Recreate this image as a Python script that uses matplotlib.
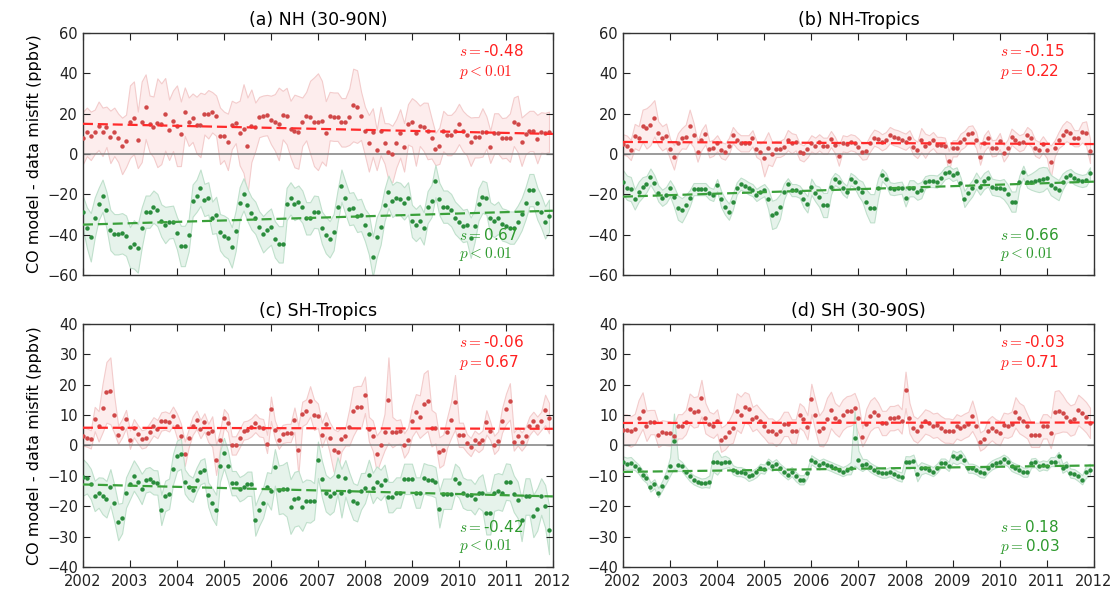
import numpy as np
import matplotlib.pyplot as plt

plt.rcParams['mathtext.fontset'] = 'cm'
plt.rcParams['xtick.direction'] = 'in'
plt.rcParams['ytick.direction'] = 'in'
plt.rcParams['xtick.top'] = True
plt.rcParams['ytick.right'] = True

# monthly time axis 2002-2011
months = 2002 + np.arange(120) / 12.0

# (a) NH (30-90N)
a_red = [8, 11, 9, 11, 14, 11, 13.5, 8.5, 11, 8, 4, 6.5,
         16, 18, 7, 16, 23.5, 15, 13.5, 15.5, 15, 19.7, 12, 16.5,
         14, 10, 21, 16, 18, 14.4, 14.4, 19.7, 19.7, 20.7, 19, 9,
         9, 6, 14.4, 15.4, 10.4, 12.6, 4, 14, 13.5, 18.3, 19, 19.3,
         16.9, 15.7, 14.9, 19.3, 18.8, 12.4, 11.4, 10.7, 16, 18.8, 18.3, 16,
         16, 16.3, 10.2, 18.8, 18.5, 18.5, 15.7, 15.7, 18.5, 24.3, 23.5, 19,
         11.4, 5.3, 10.7, 2, 11.4, 5.3, 1.2, 0, 5.3, 10.2, 3.3, 14.7,
         15.7, 10.2, 14, 13.5, 11.4, 7.8, 2.5, 4.1, 11.4, 9.4, 9.4, 11.4,
         14.9, 11.4, 9.4, 6.1, 8.3, 8.3, 10.7, 10.7, 3.6, 10.2, 10.2, 7.8,
         8.1, 8.1, 16, 14.9, 6.1, 9.8, 11.4, 11.4, 7.4, 10.7, 10.4, 11]
a_red_err = [13, 12, 12, 11, 12, 12, 10, 13, 12, 12, 14, 13,
             18, 18, 14, 20, 16, 14, 15, 22, 20, 18, 15, 15,
             20, 16, 12, 12, 12, 14, 16, 10, 12, 10, 10, 14,
             12, 14, 12, 10, 16, 22, 24, 18, 12, 10, 10, 10,
             12, 14, 18, 12, 14, 14, 18, 18, 12, 12, 18, 22,
             24, 20, 16, 12, 12, 12, 12, 12, 14, 18, 18, 12,
             12, 14, 12, 10, 12, 10, 14, 14, 12, 12, 12, 10,
             12, 16, 10, 12, 14, 10, 8, 9, 10, 10, 10, 10,
             10, 10, 10, 12, 10, 10, 12, 8, 8, 10, 10, 10,
             10, 12, 12, 14, 12, 10, 10, 10, 12, 10, 10, 10]
a_green = [-29, -36.5, -41.3, -31.6, -24.8, -20.7, -27.8, -37.7, -39.8, -39.8, -39.3, -40.5,
           -46.3, -44.8, -46.8, -36.5, -28.6, -28.6, -26.1, -27.8, -33, -35.2, -33.9, -33.6,
           -39.3, -45.6, -45.6, -40.2, -23.1, -20.7, -16.7, -22.8, -22, -31.6, -30.2, -38.8,
           -40.5, -41.8, -46.3, -38, -24.5, -20, -25.3, -29.4, -31.6, -36.4, -39.8, -37.7,
           -36, -42.3, -44.8, -44.8, -24.8, -22, -24.8, -23.6, -26.1, -31.9, -31.9, -28.6,
           -28.9, -36.5, -40.2, -42.3, -38.8, -26.1, -15.7, -21.7, -27.3, -26.9, -30.7, -30.2,
           -35.2, -39.8, -50.9, -41.3, -36, -25.3, -18.7, -23.3, -21.7, -22.3, -24.5, -22,
           -33.2, -35.2, -33.2, -36.9, -26.4, -23.3, -13.4, -22.3, -26.1, -26.1, -27.8, -31.6,
           -33.6, -35.7, -35.2, -41.5, -35.7, -25, -21.2, -22, -31.9, -33.2, -31.6, -34.9,
           -35.5, -36.5, -36.5, -33.6, -29.9, -24.5, -17.9, -17.9, -24.5, -28.6, -33.9, -30.6]
a_green_err = [8, 10, 12, 10, 8, 8, 9, 10, 10, 10, 10, 10,
               10, 12, 12, 10, 8, 8, 8, 8, 8, 9, 8, 8,
               8, 10, 10, 8, 8, 8, 9, 8, 8, 8, 9, 9,
               10, 10, 10, 10, 8, 8, 8, 8, 8, 8, 9, 9,
               9, 9, 9, 9, 8, 8, 8, 8, 8, 8, 8, 8,
               8, 8, 9, 9, 9, 8, 8, 8, 8, 8, 8, 8,
               8, 10, 10, 10, 9, 8, 8, 8, 8, 8, 8, 8,
               8, 8, 8, 8, 8, 8, 8, 8, 8, 8, 8, 8,
               8, 8, 8, 10, 8, 8, 8, 8, 8, 8, 8, 8,
               8, 8, 8, 8, 8, 8, 8, 8, 8, 8, 8, 8]

# (b) NH-Tropics
b_red = [4.8, 4.1, 2, 8.9, 7.8, 14, 12.7, 14.4, 17.7, 10.2, 7.8, 9.1,
         2.5, -1.7, 5.3, 7.8, 8.6, 14, 9.4, 1.2, 6.9, 9.8, 2.3, 3.1,
         5.3, 2, 1.2, 4, 9.4, 6.9, 5.3, 5.3, 5.3, 7.8, 2.5, 1.2,
         -2.1, 2.8, 0, 2.5, 2.5, 3.6, 6.9, 5.3, 5.8, 1.2, 0.3, 2.3,
         5.3, 4.1, 5.8, 4.1, 4.1, 7.4, 4.5, -0.8, 5.3, 4.8, 5.8, 5.3,
         3.6, 1.2, 1.5, 5.3, 8.1, 7.3, 5.8, 6.9, 9.4, 8.3, 7.8, 6.9,
         6.1, 7.8, 3.6, 2, 6.9, 4.1, 5.3, 6.9, 4.5, 4.5, 4.1, -3.5,
         2.8, 2.8, 6.1, 7.4, 9.8, 10.2, 6.9, -1.3, 5.3, 7.8, 2.8, 3.1,
         6.4, 0.3, 3.1, 8.6, 6.9, 5.3, 6.1, 9.4, 7.8, 3.1, 2, 4.8,
         2, -3.8, 2.8, 6.9, 9.4, 11.4, 10.2, 7.8, 7.8, 10.7, 10.2, 1.5]
b_red_err = [5, 5, 5, 6, 6, 8, 10, 10, 9, 6, 6, 6,
             5, 6, 5, 5, 6, 8, 6, 5, 5, 5, 4, 4,
             4, 4, 4, 4, 4, 4, 4, 4, 4, 4, 4, 4,
             9, 8, 6, 4, 4, 4, 5, 5, 4, 4, 4, 4,
             4, 4, 4, 4, 4, 4, 4, 5, 4, 4, 4, 4,
             4, 4, 4, 4, 4, 4, 4, 4, 4, 4, 4, 4,
             4, 4, 4, 4, 6, 6, 4, 4, 4, 4, 4, 5,
             4, 4, 4, 4, 4, 4, 4, 4, 4, 4, 4, 4,
             4, 4, 4, 4, 4, 4, 4, 4, 4, 4, 4, 4,
             4, 8, 4, 4, 5, 5, 5, 4, 4, 5, 6, 6]
b_green = [-14, -16.7, -17.4, -22.5, -18.7, -16.5, -14.9, -11.2, -14.5, -19.5, -21.7, -20.3,
           -17, -21.2, -26.6, -27.9, -25.3, -22, -17.4, -17.4, -17.4, -17.4, -19.5, -20.3,
           -15.4, -22.3, -26.1, -28.6, -23.6, -17, -14.7, -15.7, -17, -17.9, -20.3, -19,
           -17.9, -22.3, -30.2, -29.4, -26.1, -18.7, -15, -17.9, -17.9, -18.7, -22.3, -25,
           -16.2, -19.5, -21.2, -25.3, -25.3, -16.2, -12.4, -13.7, -17, -18.7, -12.4, -13.7,
           -16.7, -18.7, -23.6, -26.9, -26.9, -17, -10.4, -12.4, -17, -17.4, -17, -16.7,
           -22, -17, -17, -18.7, -17.9, -14, -13.4, -13.4, -13.7, -12.1, -9.6, -8.8,
           -10.4, -9.6, -14.5, -22.3, -19.5, -17, -13.2, -16.2, -13.4, -12.1, -16.2, -16.7,
           -17, -17.4, -20, -23.6, -23.6, -13.7, -8.8, -13.7, -13.7, -13.4, -12.9, -12.4,
           -11.7, -15.4, -16.7, -17.9, -13.7, -11.2, -10.4, -12.1, -12.9, -13.4, -12.9, -9.6]
b_green_err = [6, 6, 6, 5, 5, 5, 4, 4, 4, 4, 4, 4,
               4, 5, 6, 6, 5, 4, 3, 3, 3, 3, 3, 3,
               3, 4, 4, 4, 4, 3, 3, 3, 3, 3, 3, 3,
               3, 5, 7, 7, 6, 4, 3, 3, 3, 3, 4, 4,
               4, 4, 5, 6, 6, 4, 3, 3, 3, 3, 3, 3,
               4, 5, 6, 7, 7, 5, 3, 3, 3, 3, 3, 3,
               4, 4, 4, 4, 4, 3, 3, 3, 3, 3, 3, 3,
               3, 3, 3, 4, 4, 4, 4, 4, 4, 4, 4, 4,
               4, 5, 5, 5, 5, 3, 3, 3, 4, 5, 6, 6,
               5, 5, 5, 5, 4, 3, 3, 3, 3, 3, 3, 3]

# (c) SH-Tropics
c_red = [3, 2.6, 2, 8.7, 6.3, 12.3, 17.5, 18, 10.1, 3.5, 5.7, 8.7,
         1.9, 5.7, 3.7, 2, 2.4, 4.3, 6.3, 5.4, 7.9, 8.2, 7.6, 9.8,
         6.5, 3.2, -2.7, 2.4, 6.5, 8.5, 5.4, 7.6, 4.1, 4.6, -4.7, 1.9,
         9, 7.4, 0, 0, 2.4, 4.9, 5.2, 6, 7.4, 6, 5.7, 0.5,
         12.1, 5.2, 1.9, 3.8, 4.1, 4.1, 8.5, -1.6, 10.4, 11.2, 14.5, 10.1,
         9.8, 3.5, 7, 2.6, -1.6, -2.3, 2, 3, 6, 11.2, 12.6, 12.6,
         16.7, 5.4, 3.2, -2.7, 0, 4.4, 15, 4.4, 4.3, 4.6, 0, 1.9,
         7.9, 10.9, 9.5, 13.7, 14.8, 5.7, 5.7, -2.3, -1.4, 4.3, 8.5, 14.2,
         3.5, 3.5, 0.8, -0.5, 1.9, 0.8, 1.9, 7.6, 4.8, 0.2, 1.6, 8.2,
         12, 14.5, 1.3, 3, 1.3, 3, 6.5, 8.1, 6.5, 8.1, 11.7, 9]
c_red_err = [3, 3, 3, 4, 5, 8, 10, 11, 6, 3, 3, 3,
             3, 3, 3, 3, 3, 3, 3, 3, 3, 3, 3, 3,
             4, 4, 4, 3, 3, 3, 3, 3, 3, 5, 5, 3,
             3, 3, 3, 3, 3, 3, 3, 3, 3, 3, 3, 3,
             4, 3, 3, 3, 3, 3, 4, 8, 4, 4, 5, 5,
             4, 4, 4, 5, 7, 7, 4, 3, 6, 8, 7, 7,
             6, 4, 5, 6, 5, 6, 14, 5, 4, 4, 4, 4,
             5, 6, 7, 10, 10, 6, 5, 5, 5, 5, 6, 9,
             4, 4, 3, 3, 3, 3, 3, 4, 3, 3, 3, 4,
             5, 6, 3, 3, 3, 3, 3, 3, 3, 3, 5, 5]
c_green = [-10.5, -10.8, -12.7, -16.6, -15.5, -16.6, -17.7, -13.8, -19, -25.2, -23.9, -15.5,
           -12.7, -9.9, -11.9, -14.3, -11.5, -11.1, -12.1, -12.2, -21.2, -16.6, -15.9, -7.8,
           -3.4, -2.7, -11.9, -13.7, -14.6, -11.3, -8.8, -8.2, -16.2, -19, -21.2, -6.9,
           -2.5, -6.6, -12.4, -12.4, -14.4, -13.7, -12.6, -12.6, -24.7, -21.4, -18.8, -13.8,
           -15.1, -7.2, -14.6, -14.3, -14.4, -20.1, -17.7, -17.3, -20.1, -18.2, -18.4, -18.4,
           -4.7, -11, -15.7, -16.8, -15.7, -9.9, -15.7, -10.8, -14.9, -18.4, -19, -15.1,
           -14, -9.7, -14, -11.9, -13, -11.3, -17, -17, -15.5, -15.5, -11, -11,
           -11, -15.5, -15.5, -10.8, -11.3, -11.5, -12.1, -21, -15.9, -15.9, -15.9, -11,
           -12.2, -15.5, -16.2, -16.2, -17.7, -15.5, -15.5, -22.3, -22.3, -15.5, -15.1, -15.5,
           -11.9, -12.1, -15.9, -17.9, -24.5, -16.8, -16.8, -23.2, -21, -16.8, -20, -27.8]
c_green_err = [6, 5, 5, 5, 5, 6, 6, 6, 6, 6, 5, 5,
               5, 5, 5, 5, 4, 4, 4, 4, 5, 5, 5, 5,
               5, 5, 4, 4, 4, 4, 4, 4, 4, 5, 5, 5,
               5, 5, 4, 4, 4, 4, 4, 4, 5, 5, 5, 5,
               6, 6, 8, 8, 9, 9, 9, 9, 8, 7, 7, 6,
               6, 6, 6, 6, 6, 6, 8, 6, 6, 6, 6, 6,
               5, 5, 5, 5, 5, 5, 5, 5, 5, 5, 5, 5,
               5, 5, 5, 5, 5, 5, 5, 6, 5, 5, 5, 5,
               5, 5, 5, 5, 5, 5, 6, 7, 7, 6, 6, 6,
               6, 6, 6, 6, 7, 6, 6, 7, 7, 6, 7, 8]

# (d) SH (30-90S)
d_red = [5.2, 5.2, 4.6, 5.4, 9, 11.5, 6.5, 7.7, 7.7, 3.5, 4.3, 4.1,
         4, 3.2, 6.3, 6.3, 7.7, 12.1, 10.9, 11.2, 15.6, 9, 7.1, 6.5,
         7.9, 1.9, 2.7, 4.3, 5.9, 11.2, 10.1, 12.6, 12, 8.7, 9.5, 7.9,
         6.5, 4.9, 4.9, 3.8, 4.9, 7.1, 7.1, 4.6, 4.6, 9.9, 8.8, 6,
         15.3, 9.9, 4.9, 5.7, 8.7, 11.7, 9, 7.9, 10.1, 11.2, 11.5, 12.3,
         9, 2.7, 7.1, 9.8, 10.9, 10.1, 7.4, 7.4, 9, 9, 9.5, 7.9,
         18.3, 9, 5.7, 4.9, 6.3, 7.9, 7.4, 6.5, 6.8, 5.7, 4.9, 4.9,
         4.6, 6.3, 5.7, 6.5, 7.1, 9.8, 6.3, 1.3, 2.1, 4.6, 5.7, 4.6,
         4.1, 6.8, 6.5, 7.1, 10.9, 9, 8.2, 6.3, 3.5, 3.5, 3.5, 6.3,
         6.3, 4.1, 10.9, 11.2, 10.6, 9.5, 8.2, 8.7, 11.7, 10.6, 9.3, 7.4]
d_red_err = [5, 5, 5, 5, 6, 6, 5, 4, 4, 4, 4, 4,
             4, 4, 4, 4, 4, 5, 5, 5, 6, 5, 4, 4,
             4, 4, 4, 4, 5, 6, 6, 5, 5, 4, 4, 4,
             4, 4, 4, 4, 4, 4, 4, 4, 4, 4, 4, 4,
             5, 5, 5, 6, 7, 6, 5, 5, 5, 5, 5, 5,
             5, 3, 5, 5, 5, 4, 4, 4, 4, 4, 4, 4,
             6, 5, 4, 4, 4, 4, 4, 4, 4, 4, 4, 4,
             4, 4, 4, 4, 4, 5, 4, 3, 3, 4, 4, 4,
             4, 4, 4, 4, 5, 5, 5, 4, 4, 4, 4, 4,
             4, 5, 7, 7, 6, 5, 5, 5, 5, 5, 5, 5]
d_green = [-5.6, -6, -5.8, -6.6, -7.8, -9.7, -10.8, -13.7, -12.6, -15.5, -13.2, -10.4,
           -6.9, 1.5, -6.4, -6.9, -8.6, -10.2, -11.3, -11.9, -12.4, -12.2, -11.9, -5.6,
           -5.6, -5.8, -5.4, -5.6, -8, -8.6, -8.6, -9.1, -10.2, -9.7, -8.9, -7.5,
           -7.8, -5.8, -6.9, -6, -7.5, -8.6, -9.7, -8.6, -10.2, -11.3, -11.3, -9.1,
           -4.7, -5.6, -6.4, -5.8, -6.4, -6.9, -7.5, -8, -8.6, -8, -7.5, 2.4,
           -4.7, -6.4, -6, -7.2, -8, -8.6, -9.1, -9.1, -8.6, -9.3, -10, -10.4,
           -5.5, -5.6, -5, -9.3, -7.5, -7.5, -8, -8.6, -7.5, -5.8, -5.8, -6.9,
           -3.6, -4.2, -3.6, -4.9, -7.5, -7.5, -8, -8.9, -9.1, -7.5, -6.4, -5.8,
           -5.3, -4.5, -5.3, -6.9, -7.5, -8, -8.8, -8.8, -5.8, -5.6, -6.9, -6.4,
           -6.7, -5.3, -5.3, -3.6, -7.5, -6.7, -9.1, -9.3, -10.2, -11.3, -8.6, -8]
d_green_err = [2, 2, 2, 1.5, 1.5, 1.5, 1.5, 1.5, 1.5, 1.5, 1.5, 2,
               3, 9, 2, 1.5, 1.5, 1.5, 1.5, 1.5, 1.5, 1.5, 2, 3,
               4, 2, 2, 1.5, 1.5, 1.5, 1.5, 1.5, 1.5, 1.5, 1.5, 1.5,
               1.5, 1.5, 1.5, 1.5, 1.5, 1.5, 1.5, 1.5, 1.5, 1.5, 1.5, 1.5,
               1.5, 1.5, 1.5, 1.5, 1.5, 1.5, 1.5, 1.5, 1.5, 1.5, 2, 9,
               3, 2, 1.5, 1.5, 1.5, 1.5, 1.5, 1.5, 1.5, 1.5, 1.5, 1.5,
               2, 2, 2, 2.5, 2, 1.5, 1.5, 1.5, 1.5, 1.5, 1.5, 1.5,
               2, 2, 2, 1.5, 1.5, 1.5, 1.5, 1.5, 1.5, 1.5, 1.5, 1.5,
               1.5, 1.5, 1.5, 1.5, 1.5, 1.5, 1.5, 1.5, 1.5, 1.5, 1.5, 1.5,
               1.5, 1.5, 1.5, 1.5, 1.5, 1.5, 1.5, 1.5, 1.5, 1.5, 2, 2]

titles = ['(a) NH (30-90N)', '(b) NH-Tropics', '(c) SH-Tropics', '(d) SH (30-90S)']
red_stats = [('$s=$-0.48', '$p<0.01$'), ('$s=$-0.15', '$p=$0.22'),
             ('$s=$-0.06', '$p=$0.67'), ('$s=$-0.03', '$p=$0.71')]
green_stats = [('$s=$0.67', '$p<0.01$'), ('$s=$0.66', '$p<0.01$'),
               ('$s=$-0.42', '$p<0.01$'), ('$s=$0.18', '$p=$0.03')]
year_ticks = list(range(2002, 2013))


def draw_series(ax, vals, err, band_face, band_edge, dot_color, trend_color):
    vals = np.array(vals, dtype=float)
    err = np.array(err, dtype=float)
    ax.fill_between(months, vals - err, vals + err, facecolor=band_face,
                    edgecolor=band_edge, linewidth=0.8, zorder=1)
    ax.plot(months, vals, 'o', ms=3.2, color=dot_color, mec='none', zorder=3)
    coef = np.polyfit(months, vals, 1)
    xx = np.array([2002.0, 2012.0])
    ax.plot(xx, np.polyval(coef, xx), color=trend_color, lw=1.6,
            dashes=(4.5, 2.2), zorder=4)


def plot_panel(ax, red, red_err, green, green_err, title, rstat, gstat, ylim, yticks, bottom):
    ax.axhline(0, color='#808080', lw=1.1, zorder=2)
    draw_series(ax, red, red_err, '#fdeded', '#f3cccc', '#d04848', '#ff2a2a')
    draw_series(ax, green, green_err, '#e6f3eb', '#c0e0cc', '#2a8c3c', '#3aa03a')
    ax.set_xlim(2002, 2012)
    ax.set_ylim(*ylim)
    ax.set_yticks(yticks)
    ax.set_xticks(year_ticks)
    if bottom:
        ax.set_xticklabels([str(y) for y in year_ticks])
    else:
        ax.set_xticklabels([])
    ax.tick_params(labelsize=10.5, length=5, width=0.8, colors='#222222')
    ax.tick_params(axis='x', pad=5)
    for sp in ax.spines.values():
        sp.set_color('#333333')
        sp.set_linewidth(1.0)
    ax.set_title(title, fontsize=12.5, pad=6)
    ax.text(0.80, 0.925, rstat[0], transform=ax.transAxes, color='#ff2020', fontsize=11, va='center')
    ax.text(0.80, 0.84, rstat[1], transform=ax.transAxes, color='#ff2020', fontsize=11, va='center')
    ax.text(0.80, 0.165, gstat[0], transform=ax.transAxes, color='#2e9a2e', fontsize=11, va='center')
    ax.text(0.80, 0.085, gstat[1], transform=ax.transAxes, color='#2e9a2e', fontsize=11, va='center')


if __name__ == "__main__":
    fig = plt.figure(figsize=(11.15, 5.89), dpi=100)
    ax_a = fig.add_axes([0.0744, 0.5331, 0.4215, 0.4109])
    ax_b = fig.add_axes([0.5587, 0.5331, 0.4224, 0.4109])
    ax_c = fig.add_axes([0.0744, 0.0374, 0.4215, 0.4126])
    ax_d = fig.add_axes([0.5587, 0.0374, 0.4224, 0.4126])

    top_ticks = list(range(-60, 61, 20))
    low_ticks = list(range(-40, 41, 10))

    plot_panel(ax_a, a_red, a_red_err, a_green, a_green_err, titles[0], red_stats[0], green_stats[0],
               (-60, 60), top_ticks, False)
    plot_panel(ax_b, b_red, b_red_err, b_green, b_green_err, titles[1], red_stats[1], green_stats[1],
               (-60, 60), top_ticks, False)
    plot_panel(ax_c, c_red, c_red_err, c_green, c_green_err, titles[2], red_stats[2], green_stats[2],
               (-40, 40), low_ticks, True)
    plot_panel(ax_d, d_red, d_red_err, d_green, d_green_err, titles[3], red_stats[3], green_stats[3],
               (-40, 40), low_ticks, True)

    ax_a.set_ylabel('CO model - data misfit (ppbv)', fontsize=11.5)
    ax_c.set_ylabel('CO model - data misfit (ppbv)', fontsize=11.5)

    fig.savefig('out.png', dpi=100)
